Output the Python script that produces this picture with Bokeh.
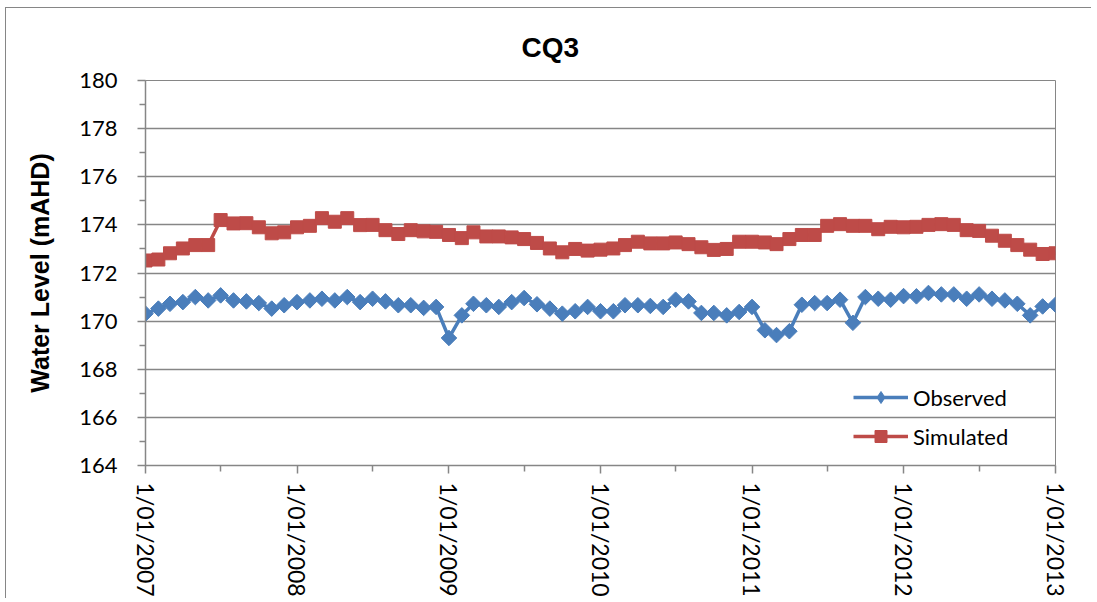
import numpy as np
import pandas as pd
from bokeh.plotting import figure
from bokeh.models import FixedTicker, Range1d, Legend, Title
from bokeh.embed import file_html
from bokeh.resources import INLINE

# ---- data ----
dates = pd.date_range("2007-01-01", periods=73, freq="MS")
observed = [170.31, 170.52, 170.72, 170.79, 171.00, 170.86, 171.07, 170.86, 170.82, 170.75,
            170.52, 170.66, 170.79, 170.86, 170.93, 170.86, 171.00, 170.79, 170.93, 170.82,
            170.66, 170.66, 170.55, 170.59, 169.30, 170.24, 170.72, 170.66, 170.59, 170.79,
            170.96, 170.70, 170.52, 170.31, 170.41, 170.59, 170.41, 170.41, 170.66, 170.66,
            170.63, 170.59, 170.89, 170.82, 170.34, 170.34, 170.24, 170.38, 170.59, 169.62,
            169.42, 169.58, 170.68, 170.75, 170.75, 170.89, 169.93, 171.00, 170.93, 170.89,
            171.04, 171.03, 171.17, 171.11, 171.11, 170.93, 171.11, 170.93, 170.86, 170.72,
            170.24, 170.61, 170.68]
simulated = [172.52, 172.56, 172.82, 173.02, 173.16, 173.16, 174.20, 174.06, 174.07, 173.90,
             173.65, 173.69, 173.90, 173.96, 174.28, 174.13, 174.28, 173.99, 174.00, 173.78,
             173.62, 173.78, 173.73, 173.71, 173.58, 173.45, 173.69, 173.52, 173.52, 173.48,
             173.41, 173.25, 173.02, 172.86, 173.00, 172.93, 172.97, 173.02, 173.16, 173.30,
             173.23, 173.23, 173.27, 173.20, 173.07, 172.96, 173.00, 173.30, 173.30, 173.27,
             173.20, 173.41, 173.58, 173.58, 173.96, 174.03, 173.96, 173.96, 173.82, 173.92,
             173.90, 173.92, 174.00, 174.03, 174.00, 173.78, 173.75, 173.55, 173.34, 173.16,
             172.97, 172.79, 172.82]
year_ticks = ["2007-01-01", "2008-01-01", "2009-01-01", "2010-01-01",
              "2011-01-01", "2012-01-01", "2013-01-01"]
year_labels = ["1/01/2007", "1/01/2008", "1/01/2009", "1/01/2010",
               "1/01/2011", "1/01/2012", "1/01/2013"]
mid_ticks = ["2007-07-01", "2008-07-01", "2009-07-01", "2010-07-01",
             "2011-07-01", "2012-07-01"]
y_ticks = [164, 166, 168, 170, 172, 174, 176, 178, 180]
y_minor = [165, 167, 169, 171, 173, 175, 177, 179]
series_names = ["Observed", "Simulated"]

def ms(s):
    return pd.Timestamp(s).value / 1e6

x_ms = [d.value / 1e6 for d in dates]
xt = [ms(s) for s in year_ticks]
xm = [ms(s) for s in mid_ticks]

GRAY = "#868686"
BLUE = "#4A7EBB"
RED = "#BE4B48"
LBL_FONT = "Lato"

p = figure(width=1086, height=591, output_backend="svg", toolbar_location=None,
           x_axis_type="datetime",
           x_range=Range1d(xt[0], xt[-1]), y_range=Range1d(164, 180),
           min_border_left=139, min_border_right=37, min_border_top=72, min_border_bottom=126)
p.styles = {"border-top": "1px solid #868686", "border-left": "1px solid #868686",
            "margin-left": "5px", "margin-top": "7px"}

p.title = Title(text="CQ3", align="left", offset=376, standoff=35,
                text_font="Liberation Sans",
                text_font_style="bold", text_font_size="28px", text_color="black")

p.outline_line_color = GRAY
p.outline_line_width = 1
p.background_fill_color = "white"
p.border_fill_color = "white"

# axes
p.xaxis.ticker = FixedTicker(ticks=xt, minor_ticks=xm)
p.xaxis.major_label_overrides = {t: l for t, l in zip(xt, year_labels)}
p.xaxis.major_label_orientation = "vertical"
p.yaxis.ticker = FixedTicker(ticks=y_ticks, minor_ticks=y_minor)
for ax in (p.xaxis, p.yaxis):
    ax.axis_line_color = GRAY
    ax.axis_line_width = 1.5
    ax.major_tick_line_color = GRAY
    ax.minor_tick_line_color = GRAY
    ax.major_tick_line_width = 1.5
    ax.minor_tick_line_width = 1.5
    ax.major_tick_in = 0
    ax.major_tick_out = 8
    ax.minor_tick_in = 0
    ax.minor_tick_out = 6
    ax.major_label_text_font = LBL_FONT
    ax.major_label_text_color = "black"
p.yaxis.major_label_text_font_size = "22px"
p.xaxis.major_label_text_font_size = "23px"
p.yaxis.major_label_standoff = 20
p.xaxis.major_label_standoff = 9
p.yaxis.axis_label = "Water Level (mAHD)"
p.yaxis.axis_label_text_font = "Liberation Sans"
p.yaxis.axis_label_text_font_style = "bold"
p.yaxis.axis_label_text_font_size = "25px"
p.yaxis.axis_label_text_color = "black"
p.yaxis.axis_label_standoff = 22

p.xgrid.grid_line_color = None
p.ygrid.grid_line_color = GRAY
p.ygrid.grid_line_width = 1.5
p.ygrid.ticker = FixedTicker(ticks=y_ticks)

# series
p.line(x_ms, observed, line_color=BLUE, line_width=3.5)
p.scatter(x_ms, observed, marker="square", angle=np.pi / 4, size=11,
          fill_color=BLUE, line_color=BLUE)
p.line(x_ms, simulated, line_color=RED, line_width=3.5)
p.scatter(x_ms, simulated, marker="square", size=13,
          fill_color=RED, line_color=RED)

# legend proxies (drawn only in the legend)
lg1 = p.line([np.nan], [np.nan], line_color=BLUE, line_width=3.5)
mg1 = p.scatter([np.nan], [np.nan], marker="diamond", size=14,
                fill_color=BLUE, line_color=BLUE)
lg2 = p.line([np.nan], [np.nan], line_color=RED, line_width=3.5)
mg2 = p.scatter([np.nan], [np.nan], marker="square", size=12,
                fill_color=RED, line_color=RED)

legend = Legend(items=[(series_names[0], [lg1, mg1]), (series_names[1], [lg2, mg2])],
                location=(708, 14), orientation="vertical",
                border_line_color=None, background_fill_alpha=0,
                padding=0, margin=0, spacing=9,
                glyph_width=55, glyph_height=30, label_height=30,
                label_standoff=5, label_text_font=LBL_FONT,
                label_text_font_size="22px", label_text_color="black")
p.add_layout(legend, "center")

open("out.html", "w").write(file_html(p, INLINE))
